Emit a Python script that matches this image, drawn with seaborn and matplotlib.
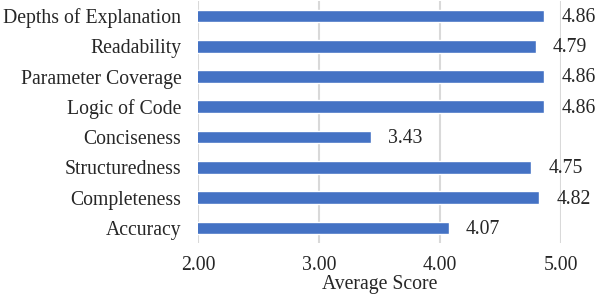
import matplotlib
matplotlib.use("Agg")
import matplotlib.pyplot as plt
import seaborn as sns
import pandas as pd

categories = ["Depths of Explanation", "Readability", "Parameter Coverage", "Logic of Code",
              "Conciseness", "Structuredness", "Completeness", "Accuracy"]
scores = [4.86, 4.79, 4.86, 4.86, 3.43, 4.75, 4.82, 4.07]
xticks = [2.00, 3.00, 4.00, 5.00]

sns.set_theme(style="white")
plt.rcParams['font.family'] = ['Liberation Serif', 'DejaVu Serif']

df = pd.DataFrame({"Criterion": categories, "Score": scores})

fig = plt.figure(figsize=(6.02, 2.95), dpi=100)
ax = fig.add_axes([0.329, 0.176, 0.603, 0.821])

sns.barplot(data=df, y="Criterion", x="Score", orient="h", color="#4472C4",
            width=0.42, saturation=1, ax=ax, zorder=3)

fs = 14.2
ax.set_xlim(2.0, 5.0)
ax.set_xticks(xticks)
ax.set_xticklabels([f"{t:.2f}" for t in xticks], fontsize=fs)
ax.tick_params(axis='y', labelsize=fs, length=0, pad=12)
ax.tick_params(axis='x', length=0, pad=9)
ax.grid(axis='x', color='#D9D9D9', linewidth=1.5, zorder=0)
ax.set_axisbelow(True)
for s in ax.spines.values():
    s.set_visible(False)
ax.set_ylabel("")
ax.set_xlabel("Average Score", fontsize=fs, labelpad=0)

for p, v in zip(ax.patches, scores):
    ax.annotate(f"{v:.2f}", (p.get_width() + p.get_x(), p.get_y() + p.get_height() / 2),
                xytext=(12.5, -1), textcoords='offset points', va='center', ha='left',
                fontsize=fs, annotation_clip=False)

ax.set_ylim(7.5, -0.5)
fig.savefig("out.png", dpi=100)
